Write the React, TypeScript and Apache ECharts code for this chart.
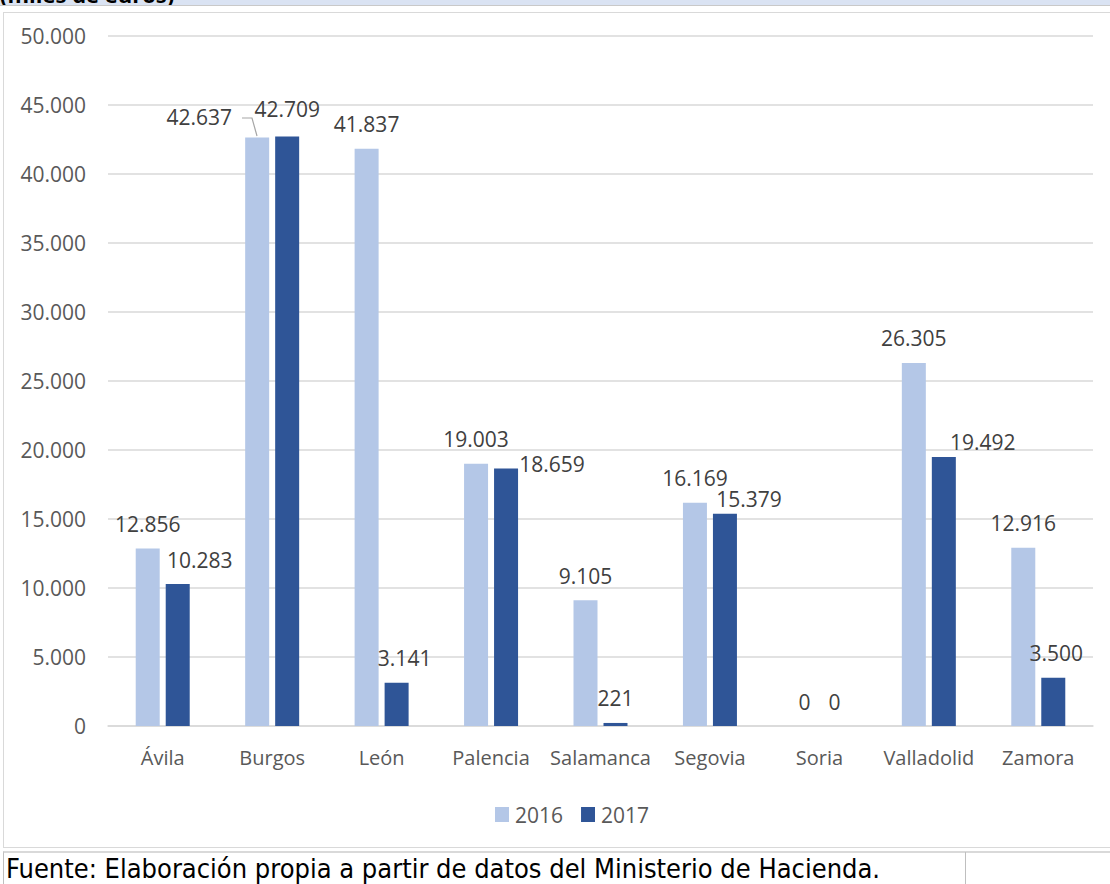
import React, { useEffect, useRef } from "react";
import * as echarts from "echarts";

const categories = ["Ávila", "Burgos", "León", "Palencia", "Salamanca", "Segovia", "Soria", "Valladolid", "Zamora"];
const values2016 = [12856, 42637, 41837, 19003, 9105, 16169, 0, 26305, 12916];
const values2017 = [10283, 42709, 3141, 18659, 221, 15379, 0, 19492, 3500];
const yTicks = { min: 0, max: 50000, interval: 5000 };

// label nudges (dx, dy) to mimic the reference label placement
const offsets2016: Record<number, [number, number]> = { 1: [-58, 4] };
const offsets2017: Record<number, [number, number]> = { 0: [22, 0], 1: [0, -3], 2: [8, 0], 3: [46, 20], 5: [24, 10], 7: [39, 9], 8: [3, 0] };

const fmt = (v: number) => v.toString().replace(/\B(?=(\d{3})+(?!\d))/g, ".");
const FONT = "'Open Sans', sans-serif";

function build(values: number[], offs: Record<number, [number, number]>) {
  return values.map((v, i) =>
    offs[i] ? { value: v, label: { offset: offs[i] } } : { value: v }
  );
}

export default function App() {
  const ref = useRef<HTMLDivElement>(null);
  useEffect(() => {
    const chart = echarts.init(ref.current!, null, { renderer: "svg" });
    const labelStyle = {
      show: true,
      position: "top" as const,
      distance: 14,
      color: "#404040",
      fontSize: 21,
      fontFamily: FONT,
      formatter: (p: any) => fmt(p.value),
    };
    chart.setOption({
      animation: false,
      textStyle: { fontFamily: FONT },
      grid: { left: 108, right: 17, top: 36, bottom: 158, containLabel: false },
      legend: {
        data: ["2016", "2017"],
        left: 490,
        top: 799,
        itemWidth: 14,
        itemHeight: 15,
        itemGap: 18,
        icon: "rect",
        textStyle: { color: "#595959", fontSize: 21, fontFamily: FONT, padding: [0, 0, 0, 1] },
      },
      xAxis: {
        type: "category",
        data: categories,
        axisLine: { lineStyle: { color: "#d9d9d9", width: 1.5 } },
        axisTick: { show: false },
        axisLabel: { color: "#595959", fontSize: 20, fontFamily: FONT, margin: 21, interval: 0 },
      },
      yAxis: {
        type: "value",
        min: yTicks.min,
        max: yTicks.max,
        interval: yTicks.interval,
        axisLine: { show: false },
        axisTick: { show: false },
        splitLine: { lineStyle: { color: "#d9d9d9", width: 1.5 } },
        axisLabel: { color: "#595959", fontSize: 21, fontFamily: FONT, margin: 22, formatter: (v: number) => fmt(v) },
      },
      series: [
        {
          name: "2016",
          type: "bar",
          data: build(values2016, offsets2016),
          itemStyle: { color: "#b4c7e7" },
          barWidth: 24,
          barGap: "25%",
          label: labelStyle,
        },
        {
          name: "2017",
          type: "bar",
          data: build(values2017, offsets2017),
          itemStyle: { color: "#2f5597" },
          barWidth: 24,
          label: labelStyle,
        },
      ],
      graphic: [
        {
          type: "polyline",
          shape: { points: [[242, 118], [252, 118], [257, 136]] },
          style: { stroke: "#a6a6a6", lineWidth: 1.2, fill: "none" },
        },
      ],
    });
    return () => chart.dispose();
  }, []);

  return (
    <div style={{ position: "fixed", left: 0, top: 0, width: 1110, height: 884, background: "#fff", overflow: "hidden" }}>
      <div style={{ position: "absolute", left: 0, top: 0, width: 1110, height: 5, background: "#dae3f3", borderBottom: "1px solid #c9c9c9", overflow: "hidden" }}>
        <div style={{ position: "absolute", left: 0, top: -21, fontFamily: "'Open Sans', sans-serif", fontWeight: "bold", fontSize: 22, lineHeight: "30px", color: "#000", whiteSpace: "nowrap" }}>
          (miles de euros)
        </div>
      </div>
      <div style={{ position: "absolute", left: 3, top: 12, width: 1130, height: 836, border: "1px solid #d9d9d9", boxSizing: "border-box" }} />
      <div ref={ref} style={{ position: "absolute", left: 0, top: 0, width: 1110, height: 884 }} />
      <div style={{ position: "absolute", left: 3, top: 851, width: 1130, height: 60, borderTop: "2px solid #d9d9d9", borderLeft: "1px solid #bfbfbf", boxSizing: "border-box" }} />
      <div style={{ position: "absolute", left: 965, top: 852, width: 1, height: 40, background: "#bfbfbf" }} />
      <div style={{ position: "absolute", left: 6, top: 853, fontFamily: "'Liberation Sans Narrow', 'DejaVu Sans Condensed', sans-serif", fontSize: 27, color: "#000", whiteSpace: "nowrap" }}>
        Fuente: Elaboración propia a partir de datos del Ministerio de Hacienda.
      </div>
    </div>
  );
}
